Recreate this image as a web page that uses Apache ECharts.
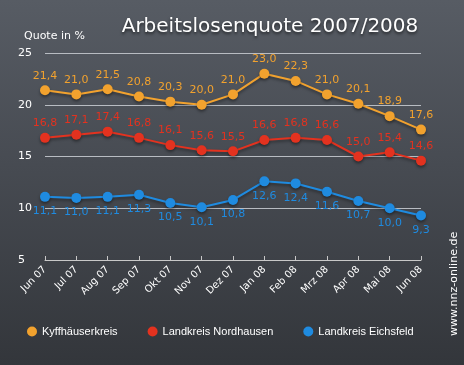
<!DOCTYPE html>
<html><head><meta charset="utf-8">
<script src="https://cdn.jsdelivr.net/npm/echarts@6/dist/echarts.min.js"></script>
<style>
html,body{margin:0;padding:0;}
#c{width:464px;height:365px;background:linear-gradient(180deg,#575c64 0%,#474b52 45%,#33363b 100%);}
</style></head><body>
<div id="c"></div>
<script>
const categories = ['Jun 07','Jul 07','Aug 07','Sep 07','Okt 07','Nov 07','Dez 07','Jan 08','Feb 08','Mrz 08','Apr 08','Mai 08','Jun 08'];
const kyffhaeuser = [21.4,21.0,21.5,20.8,20.3,20.0,21.0,23.0,22.3,21.0,20.1,18.9,17.6];
const nordhausen = [16.8,17.1,17.4,16.8,16.1,15.6,15.5,16.6,16.8,16.6,15.0,15.4,14.6];
const eichsfeld = [11.1,11.0,11.1,11.3,10.5,10.1,10.8,12.6,12.4,11.6,10.7,10.0,9.3];
const seriesNames = ['Kyffhäuserkreis','Landkreis Nordhausen','Landkreis Eichsfeld'];
const colors = ['#f2a22e','#e3321f','#1f8be0'];

const chart = echarts.init(document.getElementById('c'));
const fmt = p => p.value.toFixed(1).replace('.', ',');
function mk(name, data, color, pos) {
  return {
    name, type:'line', data, color,
    symbol:'circle', symbolSize:10,
    lineStyle:{width:2, color, shadowColor:'rgba(0,0,0,0.4)', shadowBlur:3, shadowOffsetY:2},
    itemStyle:{color, shadowColor:'rgba(0,0,0,0.4)', shadowBlur:3, shadowOffsetY:2},
    label:{show:true, position:pos, distance:4, color, fontSize:11, fontFamily:'DejaVu Sans', formatter:fmt},
    z:3
  };
}
chart.setOption({
  animation:false,
  textStyle:{fontFamily:'DejaVu Sans'},
  title:[
    {text:'Arbeitslosenquote 2007/2008', left:265, top:12, textAlign:'center',
     textStyle:{color:'#ffffff', fontSize:20, fontWeight:'normal', fontFamily:'DejaVu Sans',
       textShadowColor:'rgba(0,0,0,0.6)', textShadowBlur:3, textShadowOffsetY:2}},
    {text:'Quote in %', left:19, top:26, textStyle:{color:'#ffffff', fontSize:11, fontWeight:'normal'}}
  ],
  grid:{left:45, right:43, top:53, bottom:105},
  legend:{
    data:seriesNames, left:22, top:321, itemGap:30, icon:'circle', itemWidth:10, itemHeight:10,
    textStyle:{color:'#ffffff', fontSize:11, fontFamily:'Liberation Sans'}
  },
  xAxis:{
    type:'category', data:categories, boundaryGap:false,
    axisLine:{lineStyle:{color:'#c8c8c8', width:1}},
    axisTick:{show:true, inside:true, length:4, lineStyle:{color:'#c8c8c8'}},
    axisLabel:{color:'#ffffff', fontSize:10, rotate:45, margin:8, interval:0},
    splitLine:{show:false}
  },
  yAxis:{
    type:'value', min:5, max:25, interval:5,
    axisLine:{show:false}, axisTick:{show:false},
    axisLabel:{color:'#ffffff', fontSize:11, margin:27, align:'left'},
    splitLine:{lineStyle:{color:'#b8bcc2', width:1}}
  },
  graphic:[{
    type:'text', x:449, y:336, rotation:Math.PI/2,
    style:{text:'www.nnz-online.de', fill:'#ffffff', fontSize:11, fontFamily:'DejaVu Sans', textVerticalAlign:'top'}
  }],
  series:[
    mk(seriesNames[0], kyffhaeuser, colors[0], 'top'),
    mk(seriesNames[1], nordhausen, colors[1], 'top'),
    mk(seriesNames[2], eichsfeld, colors[2], 'bottom')
  ]
});
</script>
</body></html>
